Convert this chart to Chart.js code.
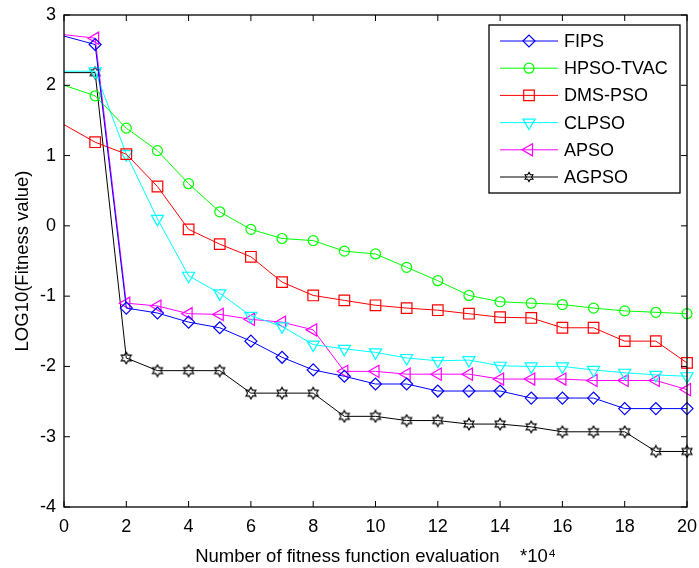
<!DOCTYPE html>
<html>
<head>
<meta charset="utf-8">
<script src="https://cdn.jsdelivr.net/npm/chart.js@4.4.0/dist/chart.umd.min.js"></script>
<style>
  body { margin: 0; background: #fff; }
  canvas { display: block; }
</style>
</head>
<body>
<canvas id="myChart" width="699" height="568"></canvas>
<script>
// evaluations (*10^4)
const evals = [0, 1, 2, 3, 4, 5, 6, 7, 8, 9, 10, 11, 12, 13, 14, 15, 16, 17, 18, 19, 20];

const fips = [2.70, 2.58, -1.17, -1.24, -1.37, -1.45, -1.64, -1.87, -2.05, -2.14, -2.25, -2.25, -2.35, -2.35, -2.35, -2.45, -2.45, -2.45, -2.60, -2.60, -2.60];
const hpsoTvac = [2.00, 1.85, 1.39, 1.07, 0.60, 0.20, -0.05, -0.18, -0.21, -0.36, -0.40, -0.59, -0.78, -0.99, -1.08, -1.10, -1.12, -1.17, -1.21, -1.23, -1.25];
const dmsPso = [1.44, 1.19, 1.02, 0.56, -0.05, -0.26, -0.44, -0.80, -0.99, -1.06, -1.13, -1.17, -1.20, -1.25, -1.30, -1.31, -1.45, -1.45, -1.64, -1.64, -1.95];
const clpso = [2.20, 2.20, 1.02, 0.10, -0.71, -0.96, -1.28, -1.43, -1.69, -1.75, -1.80, -1.88, -1.92, -1.91, -1.99, -2.00, -2.00, -2.05, -2.09, -2.12, -2.14];
const apso = [2.72, 2.67, -1.10, -1.14, -1.25, -1.26, -1.33, -1.37, -1.48, -2.07, -2.07, -2.11, -2.11, -2.11, -2.18, -2.18, -2.18, -2.20, -2.20, -2.20, -2.33];
const agpso = [2.18, 2.18, -1.88, -2.06, -2.06, -2.06, -2.38, -2.38, -2.38, -2.71, -2.71, -2.77, -2.77, -2.82, -2.82, -2.86, -2.93, -2.93, -2.93, -3.21, -3.21];

const xTicks = [0, 2, 4, 6, 8, 10, 12, 14, 16, 18, 20];
const yTicks = [-4, -3, -2, -1, 0, 1, 2, 3];

const FONT = "'Liberation Sans', Arial, sans-serif";

// hexagram marker for AGPSO
function hexagram(size, r) {
  let c = document.createElement("canvas");
  c.width = size; c.height = size;
  let g = c.getContext("2d");
  let m = size / 2;
  g.strokeStyle = "#000";
  g.lineWidth = 1.1;
  g.beginPath();
  for (let k = 0; k < 12; k++) {
    let rr = k % 2 === 0 ? r : r * 0.58;
    let a = -Math.PI / 2 + k * Math.PI / 6;
    let px = m + rr * Math.cos(a), py = m + rr * Math.sin(a);
    if (k === 0) g.moveTo(px, py); else g.lineTo(px, py);
  }
  g.closePath();
  g.stroke();
  return c;
}
const star = hexagram(14, 5.8);
const starSmall = hexagram(12, 4.6);

function pts(vals) {
  return vals.map((v, i) => ({ x: evals[i], y: v }));
}

function serie(label, vals, color, style, radius, rotation) {
  return {
    label: label,
    data: pts(vals),
    borderColor: color,
    backgroundColor: "rgba(0,0,0,0)",
    borderWidth: 1,
    pointStyle: style,
    pointRotation: rotation || 0,
    pointBorderColor: color,
    pointBackgroundColor: "rgba(0,0,0,0)",
    pointBorderWidth: 1.2,
    pointRadius: ctx => ctx.dataIndex === 0 ? 0 : radius,
    tension: 0,
    clip: false
  };
}

const datasets = [
  serie("FIPS", fips, "#0000ff", "rectRot", 6),
  serie("HPSO-TVAC", hpsoTvac, "#00ff00", "circle", 5),
  serie("DMS-PSO", dmsPso, "#ff0000", "rect", 7.5),
  serie("CLPSO", clpso, "#00ffff", "triangle", 7, 180),
  serie("APSO", apso, "#ff00ff", "triangle", 7, -90),
  serie("AGPSO", agpso, "#000000", star, 6)
];

// frame with inward ticks on all four sides
const frame = {
  id: "frame",
  afterDraw(chart) {
    const { ctx, chartArea: a, scales } = chart;
    ctx.save();
    ctx.strokeStyle = "#000";
    ctx.lineWidth = 1.3;
    ctx.strokeRect(a.left, a.top, a.right - a.left, a.bottom - a.top);
    ctx.lineWidth = 1;
    ctx.beginPath();
    xTicks.forEach(t => {
      let px = scales.x.getPixelForValue(t);
      ctx.moveTo(px, a.bottom); ctx.lineTo(px, a.bottom - 6);
      ctx.moveTo(px, a.top); ctx.lineTo(px, a.top + 6);
    });
    yTicks.forEach(t => {
      let py = scales.y.getPixelForValue(t);
      ctx.moveTo(a.left, py); ctx.lineTo(a.left + 6, py);
      ctx.moveTo(a.right, py); ctx.lineTo(a.right - 6, py);
    });
    ctx.stroke();
    ctx.restore();
  }
};

// legend box inside the plot, top right
const boxLegend = {
  id: "boxLegend",
  afterDraw(chart) {
    const ctx = chart.ctx;
    const bx = 489, by = 25, bw = 191, bh = 168;
    ctx.save();
    ctx.fillStyle = "#fff";
    ctx.fillRect(bx, by, bw, bh);
    ctx.strokeStyle = "#000";
    ctx.lineWidth = 1.3;
    ctx.strokeRect(bx, by, bw, bh);
    chart.data.datasets.forEach((ds, i) => {
      let y = 41 + i * 27.2;
      ctx.strokeStyle = ds.borderColor;
      ctx.lineWidth = 1;
      ctx.beginPath();
      ctx.moveTo(500, y); ctx.lineTo(558, y);
      ctx.stroke();
      let style = ds.pointStyle === star ? starSmall : ds.pointStyle;
      let r = ds.pointRadius({ dataIndex: 1 });
      ctx.strokeStyle = ds.borderColor;
      ctx.fillStyle = "rgba(0,0,0,0)";
      ctx.lineWidth = 1.2;
      Chart.helpers.drawPoint(ctx, { pointStyle: style, rotation: ds.pointRotation, radius: r, borderWidth: 1.2 }, 529, y);
      ctx.fillStyle = "#000";
      ctx.font = "18px " + FONT;
      ctx.textBaseline = "middle";
      ctx.fillText(ds.label, 564, y + 1);
    });
    ctx.restore();
  }
};

new Chart(document.getElementById("myChart"), {
  type: "line",
  data: { datasets: datasets },
  options: {
    responsive: false,
    animation: false,
    layout: { padding: { top: 15, right: 12, left: 12, bottom: 0 } },
    plugins: { legend: { display: false }, tooltip: { enabled: false } },
    scales: {
      x: {
        type: "linear",
        min: 0, max: 20,
        afterFit: s => { s.height = 61; },
        afterBuildTicks: s => { s.ticks = xTicks.map(v => ({ value: v })); },
        grid: { display: false },
        border: { display: false },
        ticks: { color: "#000", font: { size: 18, family: FONT }, padding: 1, maxRotation: 0 },
        title: {
          display: true,
          text: "Number of fitness function evaluation    *10\u2074",
          color: "#000",
          font: { size: 18.5, family: FONT },
          padding: { top: 3, bottom: 0 }
        }
      },
      y: {
        min: -4, max: 3,
        afterFit: s => { s.width = 52; },
        afterBuildTicks: s => { s.ticks = yTicks.map(v => ({ value: v })); },
        grid: { display: false },
        border: { display: false },
        ticks: { color: "#000", font: { size: 18, family: FONT }, padding: 0 },
        title: {
          display: true,
          text: "LOG10(Fitness value)",
          color: "#000",
          font: { size: 18.5, family: FONT },
          padding: { top: 0, bottom: 0 }
        }
      }
    }
  },
  plugins: [frame, boxLegend]
});
</script>
</body>
</html>
